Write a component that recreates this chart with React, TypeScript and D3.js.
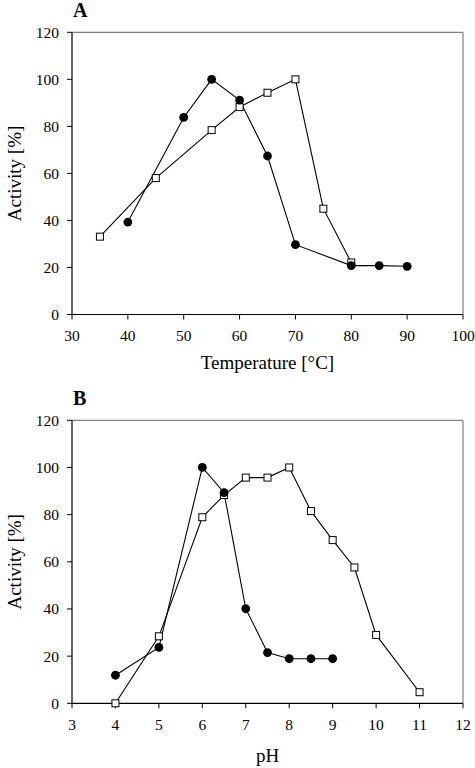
import React from "react";
import * as d3 from "d3";

const tempX = [40, 50, 55, 60, 65, 70, 80, 85, 90];
const tempCircle = [39.3, 83.8, 100, 91.2, 67.4, 29.7, 20.8, 20.8, 20.5];
const tempSqX = [35, 45, 55, 60, 65, 70, 75, 80];
const tempSquare = [33.1, 58, 78.4, 88.2, 94.3, 100, 45, 22.1];

const phCircX = [4, 5, 6, 6.5, 7, 7.5, 8, 8.5, 9];
const phCircle = [11.9, 23.7, 100, 89.3, 40.1, 21.5, 18.9, 18.9, 18.9];
const phSqX = [4, 5, 6, 6.5, 7, 7.5, 8, 8.5, 9, 9.5, 10, 11];
const phSquare = [0, 28.4, 78.9, 88.3, 95.7, 95.7, 100, 81.5, 69.2, 57.6, 29, 4.7];

const yTicks = [0, 20, 40, 60, 80, 100, 120];
const tempTicks = [30, 40, 50, 60, 70, 80, 90, 100];
const phTicks = [3, 4, 5, 6, 7, 8, 9, 10, 11, 12];

const FONT = "'Liberation Serif', 'Times New Roman', serif";

type PanelProps = {
  label: string;
  top: number;
  bottom: number;
  xDomain: [number, number];
  xTicks: number[];
  xTitle: string;
  xTitleY: number;
  circX: number[];
  circY: number[];
  sqX: number[];
  sqY: number[];
};

function Panel(p: PanelProps) {
  const left = 72;
  const right = 463;
  const x = d3.scaleLinear().domain(p.xDomain).range([left, right]);
  const y = d3.scaleLinear().domain([0, 120]).range([p.bottom, p.top]);
  const line = d3
    .line<[number, number]>()
    .x((d) => x(d[0]))
    .y((d) => y(d[1]));
  const circPts: [number, number][] = p.circX.map((v, i) => [v, p.circY[i]]);
  const sqPts: [number, number][] = p.sqX.map((v, i) => [v, p.sqY[i]]);
  const midY = (p.top + p.bottom) / 2;
  return (
    <g>
      <text x={left + 1} y={p.top - 15} fontFamily={FONT} fontWeight="bold" fontSize={20}>
        {p.label}
      </text>
      <line x1={left} x2={right} y1={p.top} y2={p.top} stroke="#808080" strokeWidth={1.2} />
      <line x1={right} x2={right} y1={p.top} y2={p.bottom} stroke="#808080" strokeWidth={1.2} />
      <line x1={left} x2={left} y1={p.top} y2={p.bottom} stroke="#000" strokeWidth={1.2} />
      <line x1={left} x2={right} y1={p.bottom} y2={p.bottom} stroke="#000" strokeWidth={1.2} />
      {yTicks.map((t) => (
        <g key={"y" + t}>
          <line x1={left - 5} x2={left} y1={y(t)} y2={y(t)} stroke="#000" strokeWidth={1} />
          <text
            x={left - 13}
            y={y(t)}
            textAnchor="end"
            dominantBaseline="central"
            fontFamily={FONT}
            fontSize={15.5}
          >
            {t}
          </text>
        </g>
      ))}
      {p.xTicks.map((t) => (
        <g key={"x" + t}>
          <line x1={x(t)} x2={x(t)} y1={p.bottom} y2={p.bottom + 5} stroke="#000" strokeWidth={1} />
          <text
            x={x(t)}
            y={p.bottom + 21}
            textAnchor="middle"
            dominantBaseline="central"
            fontFamily={FONT}
            fontSize={15.5}
          >
            {t}
          </text>
        </g>
      ))}
      <text
        x={x((p.xDomain[0] + p.xDomain[1]) / 2)}
        y={p.xTitleY}
        textAnchor="middle"
        dominantBaseline="central"
        fontFamily={FONT}
        fontSize={19}
      >
        {p.xTitle}
      </text>
      <text
        transform={`translate(${14},${midY}) rotate(-90)`}
        textAnchor="middle"
        dominantBaseline="central"
        fontFamily={FONT}
        fontSize={19}
      >
        Activity [%]
      </text>
      <path d={line(sqPts) || ""} fill="none" stroke="#000" strokeWidth={1.1} />
      <path d={line(circPts) || ""} fill="none" stroke="#000" strokeWidth={1.1} />
      {sqPts.map((d, i) => (
        <rect
          key={"s" + i}
          x={x(d[0]) - 3.5}
          y={y(d[1]) - 3.5}
          width={7}
          height={7}
          fill="#fff"
          stroke="#000"
          strokeWidth={1}
        />
      ))}
      {circPts.map((d, i) => (
        <circle key={"c" + i} cx={x(d[0])} cy={y(d[1])} r={4.4} fill="#000" />
      ))}
    </g>
  );
}

export default function App() {
  return (
    <svg
      width={475}
      height={768}
      style={{ position: "absolute", left: 0, top: 0, background: "#fff" }}
    >
      <rect x={0} y={0} width={475} height={768} fill="#fff" />
      <Panel
        label="A"
        top={32.3}
        bottom={314.5}
        xDomain={[30, 100]}
        xTicks={tempTicks}
        xTitle="Temperature [°C]"
        xTitleY={362}
        circX={tempX}
        circY={tempCircle}
        sqX={tempSqX}
        sqY={tempSquare}
      />
      <Panel
        label="B"
        top={420.3}
        bottom={703.3}
        xDomain={[3, 12]}
        xTicks={phTicks}
        xTitle="pH"
        xTitleY={755}
        circX={phCircX}
        circY={phCircle}
        sqX={phSqX}
        sqY={phSquare}
      />
    </svg>
  );
}
